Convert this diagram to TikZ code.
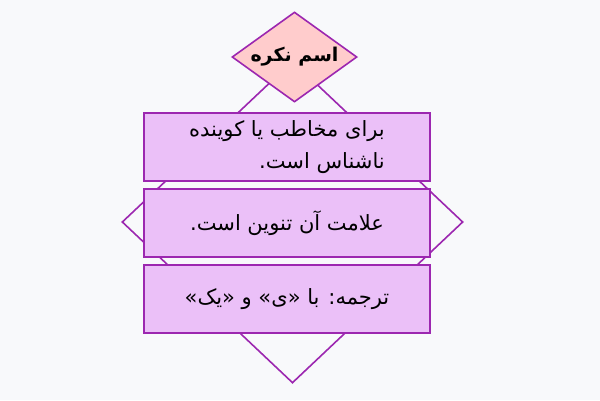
\documentclass[tikz,border=0pt]{standalone}
\usepackage{fontspec}
\TeXXeTstate=1
\newfontfamily\arabicfont[Script=Arabic]{DejaVu Sans}
\usetikzlibrary{shapes.geometric}
\definecolor{bgc}{HTML}{F8F9FB}
\definecolor{edgec}{HTML}{9C27B0}
\definecolor{boxc}{HTML}{EBC0F8}
\definecolor{pinkc}{HTML}{FFCCCC}
\tikzset{
  bigdia/.style={diamond, draw=edgec, line width=1.6pt, inner sep=0pt, minimum width=341pt, minimum height=322pt},
  topdia/.style={diamond, draw=edgec, fill=pinkc, line width=1.6pt, inner sep=0pt, minimum width=125pt, minimum height=90pt},
  titletext/.style={font=\arabicfont\fontsize{19pt}{22pt}\selectfont\bfseries, inner sep=0pt},
  infobox/.style={rectangle, draw=edgec, fill=boxc, line width=1.6pt, minimum width=286pt, minimum height=68pt, align=right, inner sep=0pt, font=\arabicfont\fontsize{21pt}{32pt}\selectfont}
}
\begin{document}
\begin{tikzpicture}[x=1pt,y=-1pt]
\fill[bgc] (0,0) rectangle (600,400);
\useasboundingbox (0,0) rectangle (600,400);
\node[bigdia] (frame) at (292.5,222) {};
\node[topdia, label={[titletext]center:\beginR اسم نکره\endR}] (title) at (294.5,57) {};
\node[infobox] (b1) at (287,147) {\beginR برای مخاطب یا کوینده\endR\\\beginR ناشناس است.\endR};
\node[infobox] (b2) at (287,223) {\beginR علامت آن تنوین است.\endR};
\node[infobox] (b3) at (287,299) {\beginR ترجمه: با «ی» و «یک»\endR};
\end{tikzpicture}
\end{document}
